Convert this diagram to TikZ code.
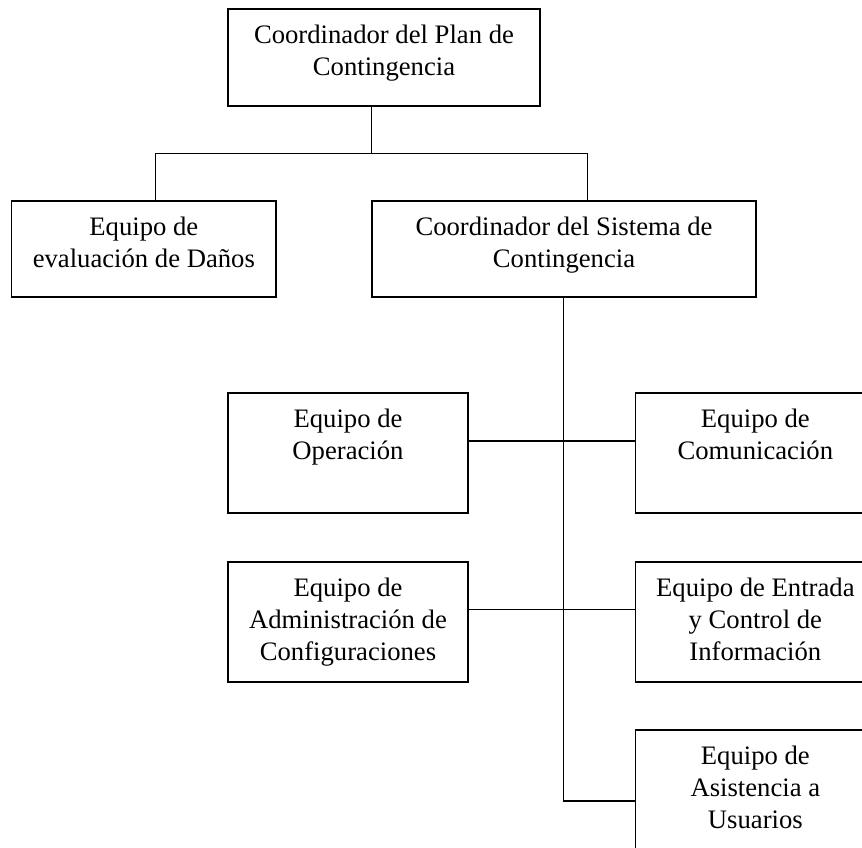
\documentclass[tikz,border=0pt]{standalone}
\usepackage{fontspec}
\setmainfont{Liberation Serif}
\usetikzlibrary{fit,calc}
\begin{document}
\begin{tikzpicture}[x=0.45pt,y=-0.45pt,
  box/.style={draw,line width=0.7pt,rectangle,inner sep=0pt},
  lbl/.style={anchor=north,align=center,inner sep=0pt,font=\fontsize{12}{14.4}\selectfont},
  conn/.style={line width=0.7pt}]
\useasboundingbox (0,0) rectangle (862,848);
\clip (0,0) rectangle (862,848);
% boxes
\node[box,fit={(228,9) (540,106)}] (top) {};
\node[box,fit={(11.7,201) (276,297)}] (dan) {};
\node[box,fit={(372,201) (756,297)}] (sis) {};
\node[box,fit={(228,393) (468,513)}] (op) {};
\node[box,fit={(635.7,393) (875,513)}] (com) {};
\node[box,fit={(228,562) (468,682)}] (adm) {};
\node[box,fit={(635.7,562) (875,682)}] (ent) {};
\node[box,fit={(635.7,730) (875,850)}] (asi) {};
% labels
\node[lbl] (topt) at ($(top.north)+(0,16)$) {Coordinador del Plan de\\Contingencia};
\node[lbl] (dant) at ($(dan.north)+(0,16)$) {Equipo de\\evaluación de Daños};
\node[lbl] (sist) at ($(sis.north)+(0,16)$) {Coordinador del Sistema de\\Contingencia};
\node[lbl] (opt) at ($(op.north)+(0,16)$) {Equipo de\\Operación};
\node[lbl] (comt) at ($(com.north)+(0,16)$) {Equipo de\\Comunicación};
\node[lbl] (admt) at ($(adm.north)+(0,16)$) {Equipo de\\Administración de\\Configuraciones};
\node[lbl] (entt) at ($(ent.north)+(0,16)$) {Equipo de Entrada\\y Control de\\Información};
\node[lbl] (asit) at ($(asi.north)+(0,16)$) {Equipo de\\Asistencia a\\Usuarios};
% connectors
\coordinate (j1) at (371.7,153.3);
\coordinate (hl) at (155.3,153.3);
\coordinate (hr) at (587.7,153.3);
\coordinate (sv) at (563.3,801);
\coordinate (r1) at (563.3,441);
\coordinate (r2) at (563.3,609.3);
\draw[conn] (top.south -| j1) -- (j1);
\draw[conn] (dan.north -| hl) -- (hl) -- (hr) -- (sis.north -| hr);
\draw[conn] (sis.south -| sv) -- (sv) -- (asi.west |- sv);
\draw[conn] (op.east |- r1) -- (com.west |- r1);
\draw[conn] (adm.east |- r2) -- (ent.west |- r2);
\end{tikzpicture}
\end{document}
